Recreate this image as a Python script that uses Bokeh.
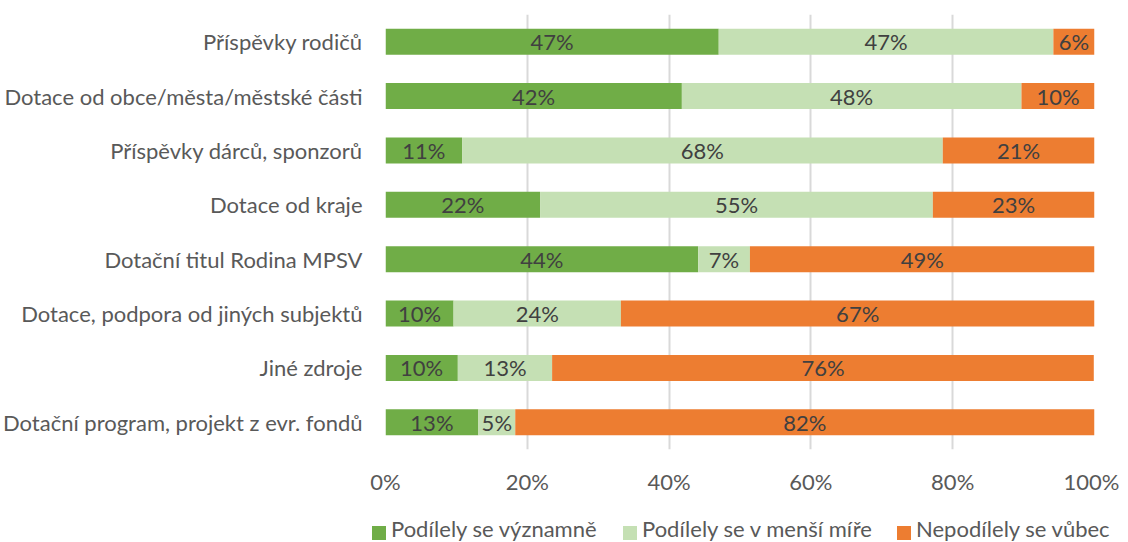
from bokeh.plotting import figure
from bokeh.layouts import column
from bokeh.models import ColumnDataSource, FactorRange, Range1d, FixedTicker, PrintfTickFormatter, Div
from bokeh.embed import file_html
from bokeh.resources import INLINE
from bokeh.core.properties import value

categories = [
    "Příspěvky rodičů",
    "Dotace od obce/města/městské části",
    "Příspěvky dárců, sponzorů",
    "Dotace od kraje",
    "Dotační titul Rodina MPSV",
    "Dotace, podpora od jiných subjektů",
    "Jiné zdroje",
    "Dotační program, projekt z evr. fondů",
]
significant = [47.0, 41.8, 10.8, 21.8, 44.1, 9.6, 10.2, 13.1]
lesser = [47.2, 47.9, 67.8, 55.4, 7.3, 23.6, 13.3, 5.2]
not_at_all = [5.8, 10.3, 21.4, 22.8, 48.6, 66.8, 76.4, 81.7]
series_names = ["Podílely se významně", "Podílely se v menší míře", "Nepodílely se vůbec"]
colors = ["#70AD47", "#C5E0B4", "#ED7D31"]
ticks = [0, 20, 40, 60, 80, 100]

FONT = "Lato"
FS = "22px"
TXT = "#404040"
LBL = "#595959"

src = ColumnDataSource(dict(cat=categories, s1=significant, s2=lesser, s3=not_at_all))

p = figure(width=1119, height=509, output_backend="svg", toolbar_location=None,
           y_range=FactorRange(factors=list(reversed(categories))),
           x_range=Range1d(0, 100),
           min_border_left=384, min_border_right=25, min_border_top=14, min_border_bottom=60)

rs = p.hbar_stack(["s1", "s2", "s3"], y="cat", height=0.48, fill_color=colors,
                  line_color=None, source=src)

# segment labels
lx, ly, lt = [], [], []
for i, c in enumerate(categories):
    start = 0.0
    for v in (significant[i], lesser[i], not_at_all[i]):
        lx.append(start + v / 2)
        ly.append(c)
        lt.append(f"{round(v)}%")
        start += v
p.text(x=lx, y=ly, text=lt, text_align="center", text_baseline="middle",
       text_font=value(FONT), text_font_size=FS, text_color=TXT)

p.outline_line_color = None
p.ygrid.grid_line_color = None
p.xgrid.grid_line_color = "#d9d9d9"
p.xgrid.grid_line_width = 2
p.xaxis.ticker = FixedTicker(ticks=ticks)
p.xaxis.formatter = PrintfTickFormatter(format="%d%%")
p.xaxis.axis_line_color = None
p.xaxis.major_tick_line_color = None
p.xaxis.minor_tick_line_color = None
p.xaxis.major_label_standoff = 12
p.xaxis.major_label_text_font = FONT
p.xaxis.major_label_text_font_size = FS
p.xaxis.major_label_text_color = LBL

p.yaxis.axis_line_color = None
p.yaxis.major_tick_line_color = None
p.yaxis.minor_tick_line_color = None
p.yaxis.major_label_standoff = 17
p.yaxis.major_label_text_font = FONT
p.yaxis.major_label_text_font_size = FS
p.yaxis.major_label_text_color = LBL

# legend strip below the chart
legend_square_left = [372, 623, 897]
legend_text_left = [391, 642, 916]
parts = []
for name, c, sx, tx in zip(series_names, colors, legend_square_left, legend_text_left):
    parts.append(
        f'<span style="position:absolute;left:{sx}px;top:17px;width:14px;height:14px;'
        f'background:{c};"></span>'
        f'<span style="position:absolute;left:{tx}px;top:9px;line-height:22px;'
        f'white-space:nowrap;">{name}</span>'
    )
html = (f'<div style="position:relative;width:1119px;height:32px;font-family:Lato;'
        f'font-size:{FS};color:{LBL};">' + "".join(parts) + "</div>")
legend_div = Div(text=html, width=1119, height=32, margin=0)

layout = column(p, legend_div, spacing=0)
open("out.html", "w").write(file_html(layout, INLINE))
